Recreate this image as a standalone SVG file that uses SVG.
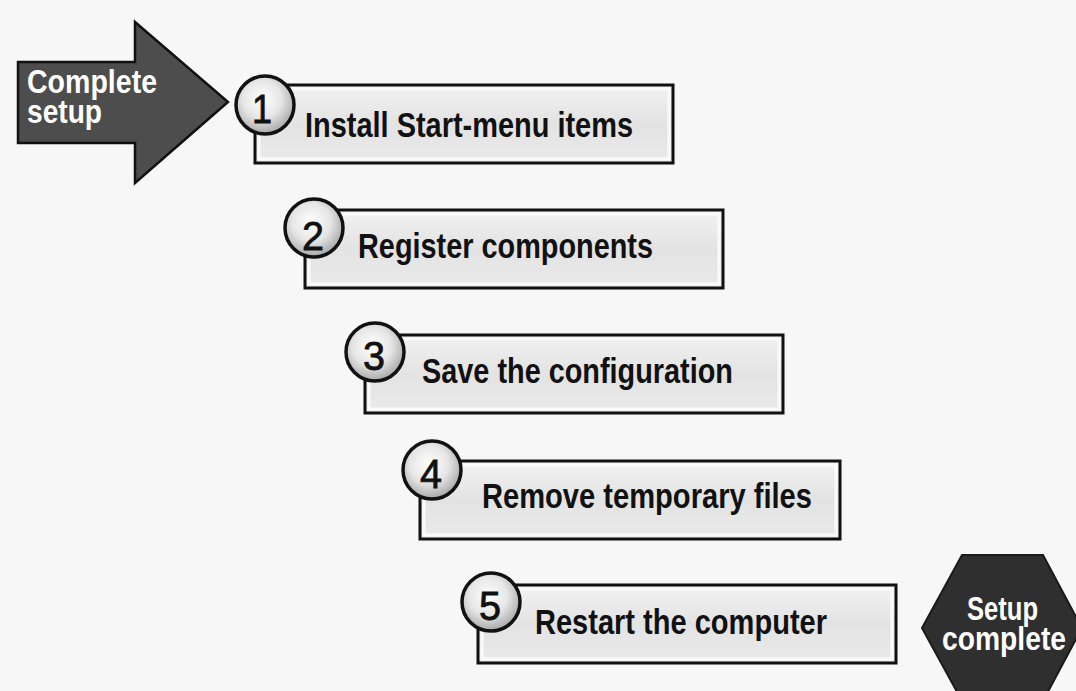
<svg xmlns="http://www.w3.org/2000/svg" width="1076" height="691" viewBox="0 0 1076 691">
<defs>
<linearGradient id="boxg" x1="0" y1="0" x2="0" y2="1">
<stop offset="0" stop-color="#f2f2f2"/>
<stop offset="0.5" stop-color="#e3e3e3"/>
<stop offset="1" stop-color="#eaeaea"/>
</linearGradient>
<radialGradient id="circg" cx="0.45" cy="0.4" r="0.6">
<stop offset="0" stop-color="#ffffff"/>
<stop offset="0.55" stop-color="#e6e6e6"/>
<stop offset="1" stop-color="#a8a8a8"/>
</radialGradient>
<style>
.box{fill:url(#boxg);stroke:#111;stroke-width:3}
.inner{fill:none;stroke:#fafafa;stroke-width:3}
.circ{fill:url(#circg);stroke:#111;stroke-width:3.5}
.num{font-family:"Liberation Sans",Arial,sans-serif;font-size:40px;fill:#111;stroke:#111;stroke-width:0.8;text-anchor:middle}
.lbl{font-family:"Liberation Sans",Arial,sans-serif;font-weight:bold;font-size:35px;fill:#111}
.wt{font-family:"Liberation Sans",Arial,sans-serif;font-weight:bold;font-size:33px;fill:#fff}
</style>
</defs>
<rect x="0" y="0" width="1076" height="691" fill="#f7f7f7"/>
<g id="connectors"/>
<g id="start">
<polygon points="18,62 135,62 135,22 228,102 135,183 135,143 18,143" fill="#4d4d4d" stroke="#111" stroke-width="2.5" stroke-linejoin="miter"/>
<text class="wt" x="27" y="93" textLength="130" lengthAdjust="spacingAndGlyphs">Complete</text>
<text class="wt" x="27" y="123" textLength="75" lengthAdjust="spacingAndGlyphs">setup</text>
</g>
<g id="step1">
<rect class="box" x="255" y="85" width="418" height="78"/>
<rect class="inner" x="259" y="89" width="410" height="70"/>
<circle class="circ" cx="265" cy="105" r="29"/>
<text class="num" x="262" y="123" textLength="20" lengthAdjust="spacingAndGlyphs">1</text>
<text class="lbl" x="305" y="137" textLength="328" lengthAdjust="spacingAndGlyphs">Install Start-menu items</text>
</g>
<g id="step2">
<rect class="box" x="305" y="210" width="418" height="78"/>
<rect class="inner" x="309" y="214" width="410" height="70"/>
<circle class="circ" cx="314" cy="228" r="29"/>
<text class="num" x="313" y="250" textLength="22" lengthAdjust="spacingAndGlyphs">2</text>
<text class="lbl" x="358" y="258" textLength="295" lengthAdjust="spacingAndGlyphs">Register components</text>
</g>
<g id="step3">
<rect class="box" x="365" y="335" width="418" height="78"/>
<rect class="inner" x="369" y="339" width="410" height="70"/>
<circle class="circ" cx="375" cy="352" r="29"/>
<text class="num" x="374" y="370" textLength="22" lengthAdjust="spacingAndGlyphs">3</text>
<text class="lbl" x="422" y="383" textLength="311" lengthAdjust="spacingAndGlyphs">Save the configuration</text>
</g>
<g id="step4">
<rect class="box" x="420" y="461" width="420" height="78"/>
<rect class="inner" x="424" y="465" width="412" height="70"/>
<circle class="circ" cx="432" cy="470" r="29"/>
<text class="num" x="431" y="488" textLength="22" lengthAdjust="spacingAndGlyphs">4</text>
<text class="lbl" x="482" y="508" textLength="330" lengthAdjust="spacingAndGlyphs">Remove temporary files</text>
</g>
<g id="step5">
<rect class="box" x="478" y="585" width="418" height="78"/>
<rect class="inner" x="482" y="589" width="410" height="70"/>
<circle class="circ" cx="491" cy="602" r="29"/>
<text class="num" x="490" y="620" textLength="22" lengthAdjust="spacingAndGlyphs">5</text>
<text class="lbl" x="535" y="634" textLength="292" lengthAdjust="spacingAndGlyphs">Restart the computer</text>
</g>
<g id="end">
<polygon points="962,555 1043,555 1082,628 1043,701 962,701 922,628" fill="#2f2f2f" stroke="#1a1a1a" stroke-width="2"/>
<text class="wt" x="967" y="620" textLength="71" lengthAdjust="spacingAndGlyphs">Setup</text>
<text class="wt" x="942" y="650" textLength="124" lengthAdjust="spacingAndGlyphs">complete</text>
</g>
</svg>
